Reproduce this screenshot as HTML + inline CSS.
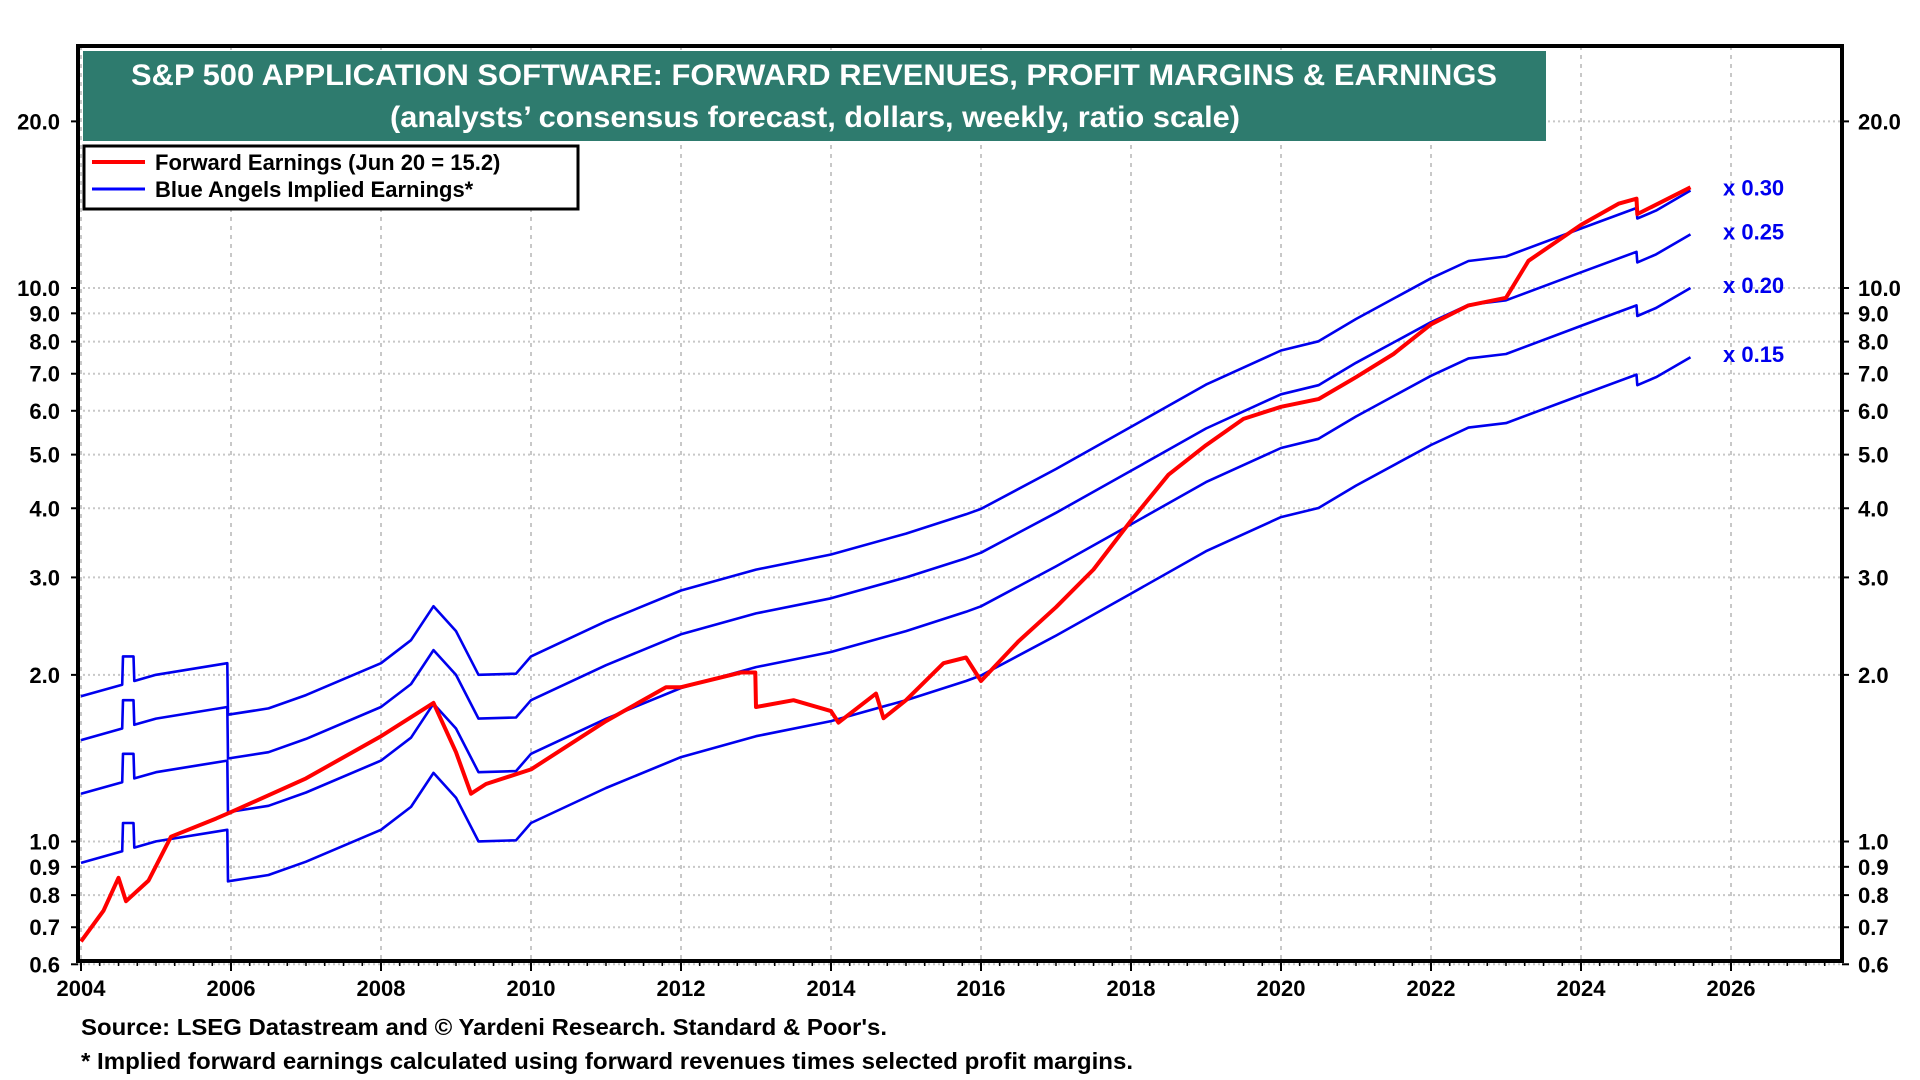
<!DOCTYPE html>
<html><head><meta charset="utf-8"><style>
html,body{margin:0;padding:0;background:#fff;}
svg{display:block;font-family:"Liberation Sans",Arial,sans-serif;font-weight:bold;}
</style></head><body>
<svg id="chart" width="1920" height="1080" viewBox="0 0 1920 1080" xmlns="http://www.w3.org/2000/svg">
<g id="grid"></g>
<g id="series"></g>
<g id="axes"></g>
<rect x="83" y="51" width="1463" height="90" fill="#2e7b6e"/>
<text x="131" y="85" font-size="30" fill="#fff" textLength="1366" lengthAdjust="spacingAndGlyphs">S&amp;P 500 APPLICATION SOFTWARE: FORWARD REVENUES, PROFIT MARGINS &amp; EARNINGS</text>
<text x="390" y="127" font-size="30" fill="#fff" textLength="850" lengthAdjust="spacingAndGlyphs">(analysts’ consensus forecast, dollars, weekly, ratio scale)</text>
<g>
<rect x="84" y="146" width="494" height="63" fill="#fff" stroke="#000" stroke-width="3"/>
<line x1="92" y1="162" x2="145" y2="162" stroke="#f00" stroke-width="4"/>
<text x="155" y="170" font-size="22">Forward Earnings (Jun 20 = 15.2)</text>
<line x1="92" y1="189" x2="145" y2="189" stroke="#00f" stroke-width="3"/>
<text x="155" y="197" font-size="22">Blue Angels Implied Earnings*</text>
</g>
<text x="81" y="1035" font-size="23" textLength="806" lengthAdjust="spacingAndGlyphs">Source: LSEG Datastream and © Yardeni Research. Standard &amp; Poor's.</text>
<text x="81" y="1069" font-size="23" textLength="1052" lengthAdjust="spacingAndGlyphs">* Implied forward earnings calculated using forward revenues times selected profit margins.</text>
</svg>
<script>
const revDates=[2004.0,2004.55,2004.56,2004.7,2004.71,2005.0,2005.95,2005.96,2006.5,2007.0,2008.0,2008.4,2008.7,2009.0,2009.3,2009.8,2010.0,2011.0,2012.0,2013.0,2014.0,2015.0,2015.8,2016.0,2017.0,2018.0,2019.0,2020.0,2020.5,2021.0,2022.0,2022.5,2023.0,2024.0,2024.74,2024.75,2025.0,2025.46];
const revenue=[6.1,6.4,7.2,7.2,6.5,6.67,7.0,5.65,5.8,6.13,7.0,7.7,8.87,8.0,6.67,6.7,7.2,8.33,9.47,10.33,11.0,12.0,13.0,13.3,15.7,18.7,22.3,25.7,26.7,29.3,34.7,37.3,38.0,42.7,46.5,44.5,46.0,50.0];
const margins=[0.30,0.25,0.20,0.15];
const marginLabels=["x 0.30","x 0.25","x 0.20","x 0.15"];
const epsDates=[2004.0,2004.3,2004.5,2004.6,2004.9,2005.2,2005.8,2006.0,2007.0,2008.0,2008.7,2009.0,2009.2,2009.4,2010.0,2011.0,2011.8,2012.0,2012.8,2012.99,2013.0,2013.5,2014.0,2014.1,2014.6,2014.7,2015.0,2015.5,2015.8,2016.0,2016.5,2017.0,2017.5,2018.0,2018.5,2019.0,2019.5,2020.0,2020.5,2021.0,2021.5,2022.0,2022.5,2023.0,2023.3,2024.0,2024.5,2024.74,2024.75,2025.46];
const earnings=[0.66,0.75,0.86,0.78,0.85,1.02,1.1,1.13,1.3,1.55,1.78,1.45,1.22,1.27,1.35,1.65,1.9,1.9,2.02,2.02,1.75,1.8,1.72,1.64,1.85,1.67,1.8,2.1,2.15,1.95,2.3,2.65,3.1,3.8,4.6,5.2,5.8,6.1,6.3,6.9,7.6,8.6,9.3,9.6,11.2,13.0,14.2,14.5,13.6,15.2];
const yTicks=[0.6,0.7,0.8,0.9,1.0,2.0,3.0,4.0,5.0,6.0,7.0,8.0,9.0,10.0,20.0];
const xTicks=[2004,2006,2008,2010,2012,2014,2016,2018,2020,2022,2024,2026];

const NS="http://www.w3.org/2000/svg";
const L=78,R=1842,T=46,B=961;
function X(yr){return 81+(yr-2004)*75;}
function Y(v){return 288-553.5*Math.log10(v/10);}
function mk(tag,attrs,parent){const e=document.createElementNS(NS,tag);for(const k in attrs)e.setAttribute(k,attrs[k]);parent.appendChild(e);return e;}
const grid=document.getElementById('grid'),series=document.getElementById('series'),axes=document.getElementById('axes');
yTicks.forEach(v=>{
 const g=mk('line',{x1:L,x2:R,y1:Y(v),y2:Y(v),stroke:'#c8c8c8','stroke-width':2,'stroke-dasharray':'2,3'},grid);
 
 
 const t1=mk('text',{x:60,y:Y(v)+8,'text-anchor':'end','font-size':22},axes);t1.textContent=v.toFixed(1);
 
 
 const t2=mk('text',{x:1858,y:Y(v)+8,'font-size':22},axes);t2.textContent=v.toFixed(1);
 
 
 mk('line',{x1:L-7,x2:L,y1:Y(v),y2:Y(v),stroke:'#000','stroke-width':2},axes);
 mk('line',{x1:R,x2:R+7,y1:Y(v),y2:Y(v),stroke:'#000','stroke-width':2},axes);
});
xTicks.forEach(yr=>{
 const g=mk('line',{x1:X(yr),x2:X(yr),y1:T,y2:B,stroke:'#c8c8c8','stroke-width':2,'stroke-dasharray':'4,5'},grid);
 
 
 const t=mk('text',{x:X(yr),y:996,'text-anchor':'middle','font-size':22},axes);t.textContent=yr;
 
 
 mk('line',{x1:X(yr),x2:X(yr),y1:B,y2:B+10,stroke:'#000','stroke-width':2},axes);
});
for(let q=2004;q<2027.5;q+=0.25){mk('line',{x1:X(q),x2:X(q),y1:B,y2:B+5,stroke:'#000','stroke-width':1.5},axes);}
const fr=mk('rect',{x:L,y:T,width:R-L,height:B-T,fill:'none',stroke:'#000','stroke-width':4},axes);


margins.forEach((m,i)=>{
 const pts=revDates.map((d,j)=>X(d).toFixed(1)+','+Y(revenue[j]*m).toFixed(1)).join(' ');
 const p=mk('polyline',{points:pts,fill:'none',stroke:'#0000ee','stroke-width':2.6,'stroke-linejoin':'round'},series);
 
 
 const last=revenue[revenue.length-1]*m;
 const t=mk('text',{x:1723,y:Y(last)+5,'font-size':22,fill:'#0000ee'},series);t.textContent=marginLabels[i];
 
 
});
const ep=epsDates.map((d,j)=>X(d).toFixed(1)+','+Y(earnings[j]).toFixed(1)).join(' ');
const red=mk('polyline',{points:ep,fill:'none',stroke:'#ff0000','stroke-width':4,'stroke-linejoin':'round'},series);


</script>
</body></html>
